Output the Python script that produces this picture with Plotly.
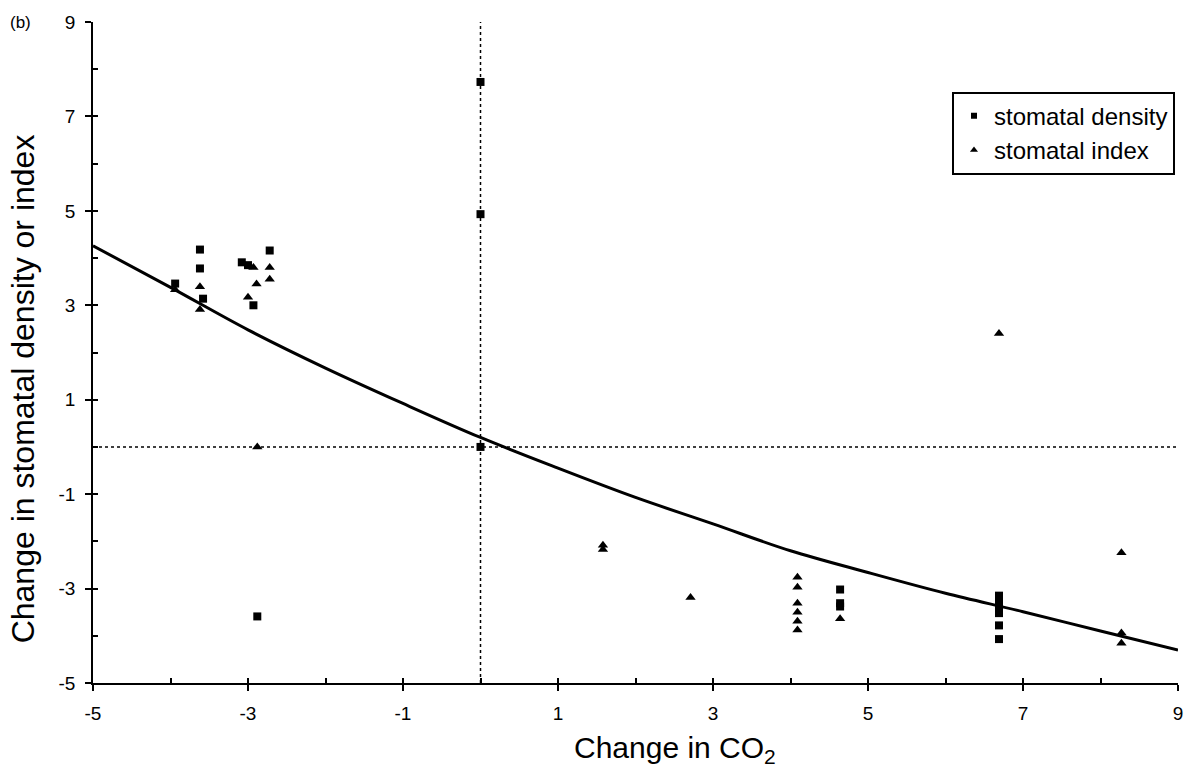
import plotly.graph_objects as go

# ---- data ----
density_x = [-3.94, -3.62, -3.62, -3.58, -3.08, -3.00, -2.93, -2.72,
             0.0, 0.0, 0.0, -2.88,
             4.64, 4.64, 4.64,
             6.69, 6.69, 6.69, 6.69, 6.69, 6.69, 6.69]
density_y = [3.46, 4.18, 3.78, 3.14, 3.91, 3.85, 3.00, 4.16,
             7.73, 4.93, 0.0, -3.59,
             -3.02, -3.31, -3.38,
             -3.15, -3.25, -3.35, -3.45, -3.52, -3.78, -4.07]

index_x = [-3.94, -3.62, -3.62, -2.93, -2.89, -3.00, -2.72, -2.72, -2.88,
           1.58, 1.58, 2.71,
           4.09, 4.09, 4.09, 4.09, 4.09, 4.09,
           4.64, 6.69, 8.27, 8.27, 8.27]
index_y = [3.33, 3.39, 2.91, 3.80, 3.45, 3.17, 3.80, 3.55, 0.0,
           -2.08, -2.17, -3.19,
           -2.76, -2.97, -3.31, -3.50, -3.69, -3.88,
           -3.64, 2.40, -2.24, -3.94, -4.16]

curve_x = [-5, -4, -3, -2, -1, 0, 1, 2, 3, 4, 5, 6, 7, 8, 9]
curve_y = [4.26, 3.38, 2.48, 1.67, 0.92, 0.20, -0.45, -1.07, -1.63,
           -2.20, -2.66, -3.10, -3.49, -3.90, -4.30]

x_ticks = [-5, -3, -1, 1, 3, 5, 7, 9]
y_ticks = [-5, -3, -1, 1, 3, 5, 7, 9]

series_names = ["stomatal density", "stomatal index"]

FONT = "Liberation Sans, Arial, sans-serif"
W, H = 1200, 775
ML, MR, MT, MB = 93, 22, 19, 92
PW, PH = W - ML - MR, H - MT - MB


def px_to_paper_x(px):
    return (px - ML) / PW


def px_to_paper_y(py):
    return 1 - (py - MT) / PH


fig = go.Figure()

fig.add_trace(go.Scatter(
    x=curve_x, y=curve_y, mode="lines", line=dict(color="black", width=3, shape="spline"),
    showlegend=False, hoverinfo="skip"))

fig.add_trace(go.Scatter(
    x=density_x, y=density_y, mode="markers", name=series_names[0], showlegend=False,
    marker=dict(symbol="square", size=8, color="black")))

fig.add_trace(go.Scatter(
    x=index_x, y=index_y, mode="markers", name=series_names[1], showlegend=False,
    marker=dict(symbol="triangle-up", size=9, color="black")))

# legend-only entries with the small legend symbols
fig.add_trace(go.Scatter(x=[None], y=[None], mode="markers", name=series_names[0],
                         marker=dict(symbol="square", size=6, color="black")))
fig.add_trace(go.Scatter(x=[None], y=[None], mode="markers", name=series_names[1],
                         marker=dict(symbol="triangle-up", size=7, color="black")))

# dotted reference lines at zero
fig.add_shape(type="line", xref="x", yref="paper", x0=0, x1=0, y0=0, y1=1,
              line=dict(color="black", width=1.5, dash="dot"), layer="below")
fig.add_shape(type="line", xref="paper", yref="y", x0=0, x1=1, y0=0, y1=0,
              line=dict(color="black", width=1.5, dash="dot"), layer="below")

axis_common = dict(showgrid=False, zeroline=False, showline=True, linecolor="black",
                   linewidth=1.5, ticks="outside", ticklen=6, tickwidth=1.5,
                   tickcolor="black", tickfont=dict(family=FONT, size=19, color="black"))

fig.update_layout(
    width=W, height=H,
    margin=dict(l=ML, r=MR, t=MT, b=MB),
    paper_bgcolor="white", plot_bgcolor="white",
    font=dict(family=FONT, color="black"),
    xaxis=dict(range=[-5, 9], tickvals=x_ticks, ticktext=[str(v) for v in x_ticks],
               ticklabelstandoff=6, **axis_common),
    yaxis=dict(range=[-5, 9], tickvals=y_ticks, ticktext=[str(v) for v in y_ticks],
               ticklabelstandoff=6, **axis_common),
    xaxis2=dict(overlaying="x", matches="x", range=[-5, 9], side="bottom",
                showgrid=False, zeroline=False, showline=False, showticklabels=False,
                ticks="inside", ticklen=5, tickwidth=1.5, tickcolor="black", dtick=1, tick0=-5),
    yaxis2=dict(overlaying="y", matches="y", range=[-5, 9], side="left",
                showgrid=False, zeroline=False, showline=False, showticklabels=False,
                ticks="inside", ticklen=5, tickwidth=1.5, tickcolor="black", dtick=1, tick0=-5),
    legend=dict(x=px_to_paper_x(952), y=px_to_paper_y(89), xanchor="left", yanchor="top",
                bordercolor="black", borderwidth=2, bgcolor="white",
                font=dict(family=FONT, size=24, color="black"),
                itemwidth=30, tracegroupgap=0),
    showlegend=True,
)

# invisible trace to instantiate the overlay axes
fig.add_trace(go.Scatter(x=[-5, 9], y=[-5, 9], xaxis="x2", yaxis="y2", mode="markers",
                         marker=dict(opacity=0), showlegend=False, hoverinfo="skip"))

# axis titles
fig.add_annotation(text="Change in CO<sub>2</sub>", xref="paper", yref="paper",
                   x=px_to_paper_x(675), y=px_to_paper_y(750), xanchor="center", yanchor="middle",
                   showarrow=False, font=dict(family=FONT, size=30, color="black"))
fig.add_annotation(text="Change in stomatal density or index", xref="paper", yref="paper",
                   x=px_to_paper_x(23), y=px_to_paper_y(388), xanchor="center", yanchor="middle",
                   textangle=-90, showarrow=False, font=dict(family=FONT, size=32, color="black"))

fig.add_annotation(text="(b)", xref="paper", yref="paper", x=px_to_paper_x(8), y=px_to_paper_y(19),
                   xanchor="left", yanchor="middle", showarrow=False,
                   font=dict(family=FONT, size=17, color="black"))

fig.write_html("out.html")
